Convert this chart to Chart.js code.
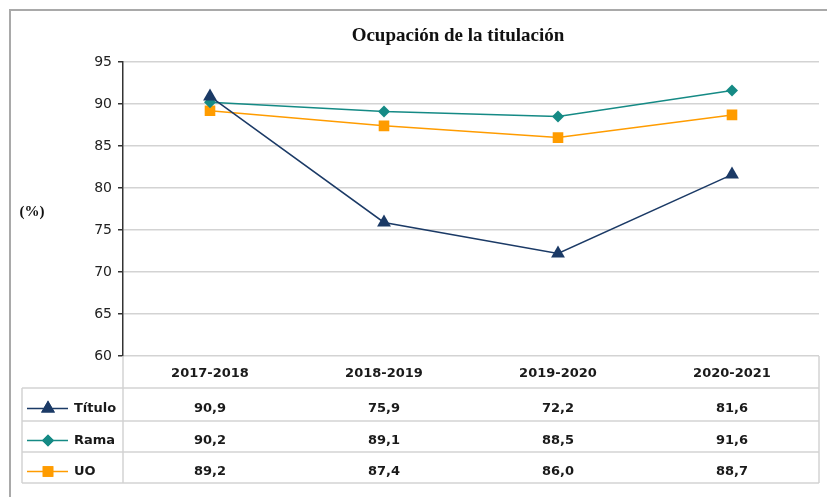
<!DOCTYPE html>
<html>
<head>
<meta charset="utf-8">
<script src="https://cdn.jsdelivr.net/npm/chart.js@4/dist/chart.umd.min.js"></script>
<style>
  html, body { margin: 0; padding: 0; background: #fff; }
  #wrap { width: 827px; height: 497px; }
</style>
</head>
<body>
<div id="wrap"><canvas id="chart" width="827" height="497"></canvas></div>
<script>
// chart values
const years = ['2017-2018', '2018-2019', '2019-2020', '2020-2021'];
const titulo = [90.9, 75.9, 72.2, 81.6];
const rama = [90.2, 89.1, 88.5, 91.6];
const uo = [89.2, 87.4, 86.0, 88.7];
const yTicks = [60, 65, 70, 75, 80, 85, 90, 95];

const tableFont = 'bold 13px "DejaVu Sans"';
const gridGrey = '#d3d3d3';

// frame, title and (%) label
const decorPlugin = {
  id: 'decor',
  beforeDraw(chart) {
    const ctx = chart.ctx;
    ctx.save();
    ctx.strokeStyle = '#a9a9a9';
    ctx.lineWidth = 2;
    ctx.beginPath();
    ctx.moveTo(10, 497);
    ctx.lineTo(10, 10);
    ctx.lineTo(827, 10);
    ctx.stroke();

    ctx.fillStyle = '#111';
    ctx.textAlign = 'center';
    ctx.textBaseline = 'middle';
    ctx.font = 'bold 19px "Liberation Serif"';
    ctx.fillText('Ocupación de la titulación', 458, 36);
    ctx.font = 'bold 15px "Liberation Serif"';
    ctx.fillText('(%)', 32, 212);
    ctx.restore();
  }
};

// data table below the plot, columns follow the x scale
const tablePlugin = {
  id: 'dataTable',
  afterDraw(chart) {
    const ctx = chart.ctx;
    const xs = chart.scales.x;
    const area = chart.chartArea;
    const left = 22, right = area.right;
    const rows = [area.bottom, 388, 421, 452, 483];
    ctx.save();
    ctx.strokeStyle = gridGrey;
    ctx.lineWidth = 1.5;
    ctx.beginPath();
    for (let i = 1; i < rows.length; i++) {
      ctx.moveTo(left, rows[i]);
      ctx.lineTo(right, rows[i]);
    }
    ctx.moveTo(left, rows[1]);
    ctx.lineTo(left, rows[4]);
    ctx.moveTo(area.left, rows[0]);
    ctx.lineTo(area.left, rows[4]);
    ctx.moveTo(right, rows[0]);
    ctx.lineTo(right, rows[4]);
    ctx.stroke();

    ctx.font = tableFont;
    ctx.fillStyle = '#1a1a1a';
    ctx.textAlign = 'center';
    ctx.textBaseline = 'middle';
    years.forEach((y, i) => {
      ctx.fillText(y, xs.getPixelForValue(i), (rows[0] + rows[1]) / 2 + 2);
    });

    chart.data.datasets.forEach((ds, r) => {
      const cy = (rows[r + 1] + rows[r + 2]) / 2 + 4;
      ds.data.forEach((v, i) => {
        ctx.fillStyle = '#1a1a1a';
        ctx.textAlign = 'center';
        ctx.fillText(v.toFixed(1).replace('.', ','), xs.getPixelForValue(i), cy);
      });
      // legend key
      ctx.strokeStyle = ds.borderColor;
      ctx.lineWidth = 1.5;
      ctx.beginPath();
      ctx.moveTo(27, cy);
      ctx.lineTo(68, cy);
      ctx.stroke();
      ctx.fillStyle = ds.backgroundColor;
      Chart.helpers.drawPoint(ctx, { pointStyle: ds.pointStyle, radius: ds.pointRadius, rotation: 0, borderWidth: 0 }, 48, cy);
      ctx.fill();
      ctx.fillStyle = '#1a1a1a';
      ctx.textAlign = 'left';
      ctx.fillText(ds.label, 74, cy);
    });
    ctx.restore();
  }
};

const makeSet = (label, data, color, style, radius) => ({
  label: label,
  data: data,
  borderColor: color,
  backgroundColor: color,
  borderWidth: 1.5,
  pointStyle: style,
  pointRadius: radius,
  pointBorderWidth: 0,
  pointHoverRadius: radius,
  tension: 0
});

new Chart(document.getElementById('chart').getContext('2d'), {
  type: 'line',
  data: {
    labels: years,
    datasets: [
      makeSet('Título', titulo, '#1b3a66', 'triangle', 8),
      makeSet('Rama', rama, '#158a85', 'rectRot', 6),
      makeSet('UO', uo, '#ff9c00', 'rect', 7.5)
    ]
  },
  options: {
    responsive: false,
    animation: false,
    layout: { padding: { top: 62, right: 5, bottom: 141, left: 0 } },
    plugins: { legend: { display: false }, tooltip: { enabled: false }, title: { display: false } },
    scales: {
      x: { display: false, offset: true },
      y: {
        min: 60,
        max: 95,
        afterBuildTicks: (axis) => { axis.ticks = yTicks.map(v => ({ value: v })); },
        afterFit: (axis) => { axis.width = 123; },
        ticks: { font: { family: 'DejaVu Sans', size: 14 }, color: '#222', padding: 6 },
        grid: { color: gridGrey, lineWidth: 1.5, tickColor: '#333', tickLength: 5 },
        border: { display: true, color: '#333', width: 1.5 }
      }
    }
  },
  plugins: [decorPlugin, tablePlugin]
});
</script>
</body>
</html>
